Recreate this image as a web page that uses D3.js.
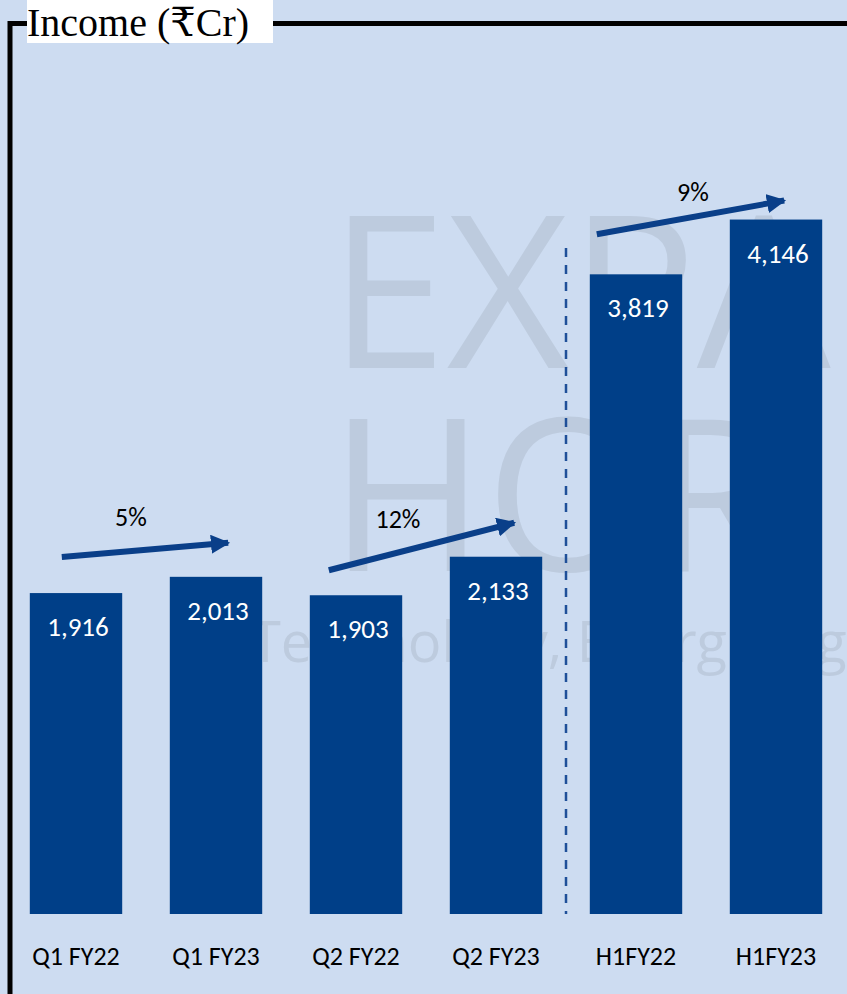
<!DOCTYPE html>
<html><head><meta charset="utf-8">
<script src="https://cdn.jsdelivr.net/npm/d3@7"></script>
<style>
html,body{margin:0;padding:0;background:#cddcf1;}
svg{display:block;}
</style></head>
<body>
<script>
// ---- data ----
const categories = ["Q1 FY22","Q1 FY23","Q2 FY22","Q2 FY23","H1FY22","H1FY23"];
const income = [1916, 2013, 1903, 2133, 3819, 4146];
const valueLabels = ["1,916","2,013","1,903","2,133","3,819","4,146"];
const growthPairs = [[0,1],[2,3],[4,5]];
const growthLabels = ["5%","12%","9%"];
const titleText = "Income (₹Cr)";

// ---- layout ----
const W = 847, H = 994;
const bg = "#cddcf1", barColor = "#003f88", arrowColor = "#0a3f89";
const sans = "Calibri, Carlito, Lato, 'Open Sans', sans-serif";

const svg = d3.select("body").append("svg").attr("width", W).attr("height", H);
svg.append("rect").attr("width", W).attr("height", H).attr("fill", bg);

const x = d3.scaleBand().domain(categories).range([6, 846]).paddingInner(0.34).paddingOuter(0.17);
const y = d3.scaleLinear().domain([0, 5000]).range([914, 76.5]);

// watermark
const wm = svg.append("g").attr("fill", "#bdcbde").attr("font-family", "'Open Sans', sans-serif");
wm.append("text").attr("x", 329).attr("y", 368).attr("font-size", 212).attr("font-weight", 500).text("EXPANDING");
wm.append("text").attr("x", 329).attr("y", 571).attr("font-size", 212).attr("font-weight", 500).text("HORIZONS");
wm.append("text").attr("x", 250).attr("y", 662).attr("font-size", 56).text("Technology, Energising, Empowering");

// frame
svg.append("path").attr("d", `M10,${H} V23.5 H${W}`).attr("fill", "none").attr("stroke", "#000").attr("stroke-width", 5);
svg.append("rect").attr("x", 27).attr("y", 0).attr("width", 246).attr("height", 43).attr("fill", "#fff");
svg.append("text").attr("x", 27).attr("y", 36).attr("font-family", "'Liberation Serif', 'DejaVu Serif', serif")
  .attr("font-size", 40).attr("fill", "#000").text(titleText);

// divider
svg.append("line").attr("x1", 566).attr("x2", 566).attr("y1", 248).attr("y2", 914)
  .attr("stroke", "#1f4f99").attr("stroke-width", 2.5).attr("stroke-dasharray", "9,8");

// bars
const data = categories.map((c, i) => ({c, v: income[i], lab: valueLabels[i]}));
svg.append("g").selectAll("rect").data(data).join("rect")
  .attr("x", d => x(d.c)).attr("y", d => y(d.v))
  .attr("width", x.bandwidth()).attr("height", d => y(0) - y(d.v))
  .attr("fill", barColor);

svg.append("g").selectAll("text").data(data).join("text")
  .attr("x", d => x(d.c) + x.bandwidth() / 2 + 2).attr("y", d => y(d.v) + 43)
  .attr("text-anchor", "middle").attr("font-family", sans).attr("font-size", 27)
  .attr("fill", "#fff").text(d => d.lab);

// x axis labels
const xAxis = svg.append("g").attr("transform", "translate(0,940)")
  .call(d3.axisBottom(x).tickSize(0).tickPadding(0));
xAxis.select(".domain").remove();
xAxis.selectAll("text").attr("font-family", sans).attr("font-size", 26).attr("fill", "#000").attr("dy", "0.95em");

// growth arrows
const defs = svg.append("defs");
defs.append("marker").attr("id", "ah").attr("viewBox", "0 0 10 10").attr("refX", 9).attr("refY", 5)
  .attr("markerWidth", 3.2).attr("markerHeight", 3.2).attr("orient", "auto").attr("markerUnits", "strokeWidth")
  .append("path").attr("d", "M0,0 L10,5 L0,10 Z").attr("fill", arrowColor);

const arrowOffsets = [
  {sx: 32, sy: -36, ex: -30, ey: -34, lx: 131, ly: -24},
  {sx: 19, sy: -25, ex: -24, ey: -34, lx: 398, ly: -18},
  {sx: 7,  sy: -40, ex: -34, ey: -19, lx: 693, ly: -16}
];
growthPairs.forEach(([a, b], i) => {
  const o = arrowOffsets[i];
  const x1 = x(categories[a]) + o.sx, y1 = y(income[a]) + o.sy;
  const x2 = x(categories[b]) + x.bandwidth() + o.ex, y2 = y(income[b]) + o.ey;
  svg.append("line").attr("x1", x1).attr("y1", y1).attr("x2", x2 - 4).attr("y2", y2)
    .attr("stroke", arrowColor).attr("stroke-width", 6).attr("marker-end", "url(#ah)");
  svg.append("text").attr("x", o.lx).attr("y", (y1 + y2) / 2 + o.ly)
    .attr("text-anchor", "middle").attr("font-family", sans).attr("font-size", 26)
    .attr("fill", "#000").text(growthLabels[i]);
});
</script>
</body></html>
